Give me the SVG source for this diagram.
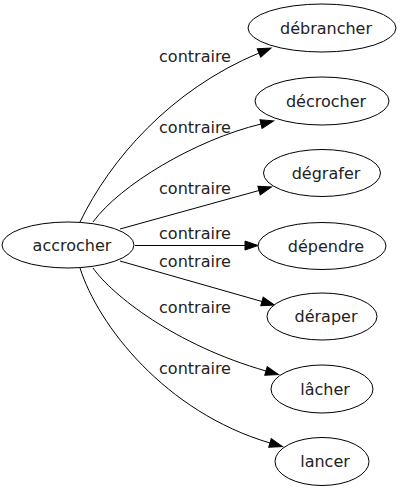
<svg xmlns="http://www.w3.org/2000/svg" width="400" height="491" viewBox="0 0 400 491">
<style>
.n ellipse{fill:#fff;stroke:#000;stroke-width:1}
text{font-family:"DejaVu Sans",sans-serif;font-size:16px;fill:#222;text-anchor:middle}
.e path{fill:none;stroke:#000;stroke-width:1}
</style>
<defs>
<marker id="ah" markerUnits="userSpaceOnUse" markerWidth="14" markerHeight="10" refX="0" refY="5" orient="auto" viewBox="0 0 14 10" overflow="visible">
<polygon points="0,0.5 13,5 0,9.5" fill="#000" stroke="#000" stroke-width="1"/>
</marker>
</defs>
<rect width="400" height="491" fill="#fff"/>
<g id="edges" class="e">
<path d="M80,222 C110,160 170,90 259,53" marker-end="url(#ah)"/>
<path d="M93,222 C120,185 195,140 261,124" marker-end="url(#ah)"/>
<path d="M120,229 L259,190.5" marker-end="url(#ah)"/>
<path d="M135,245.5 L245,245.5" marker-end="url(#ah)"/>
<path d="M120,261 L262,301.5" marker-end="url(#ah)"/>
<path d="M93,268 C112,295 175,345 266,371" marker-end="url(#ah)"/>
<path d="M80,268 C98,325 165,412 270,443" marker-end="url(#ah)"/>
<text x="195" y="62">contraire</text>
<text x="195" y="133">contraire</text>
<text x="195" y="194">contraire</text>
<text x="195" y="239">contraire</text>
<text x="195" y="267">contraire</text>
<text x="195" y="313">contraire</text>
<text x="195" y="374">contraire</text>
</g>
<g id="accrocher" class="n"><ellipse cx="68" cy="245" rx="66" ry="23"/><text x="72" y="251">accrocher</text></g>
<g id="debrancher" class="n"><ellipse cx="322" cy="28" rx="74" ry="24"/><text x="326" y="34">débrancher</text></g>
<g id="decrocher" class="n"><ellipse cx="322" cy="101" rx="67" ry="24"/><text x="326" y="107">décrocher</text></g>
<g id="degrafer" class="n"><ellipse cx="322" cy="173" rx="58.5" ry="23.5"/><text x="326" y="179">dégrafer</text></g>
<g id="dependre" class="n"><ellipse cx="322" cy="246" rx="64" ry="23.5"/><text x="326" y="252">dépendre</text></g>
<g id="deraper" class="n"><ellipse cx="322" cy="316.5" rx="55" ry="23.5"/><text x="326" y="322">déraper</text></g>
<g id="lacher" class="n"><ellipse cx="322" cy="389" rx="51" ry="24"/><text x="325" y="395">lâcher</text></g>
<g id="lancer" class="n"><ellipse cx="322" cy="461.5" rx="47" ry="24"/><text x="325" y="467">lancer</text></g>
</svg>
